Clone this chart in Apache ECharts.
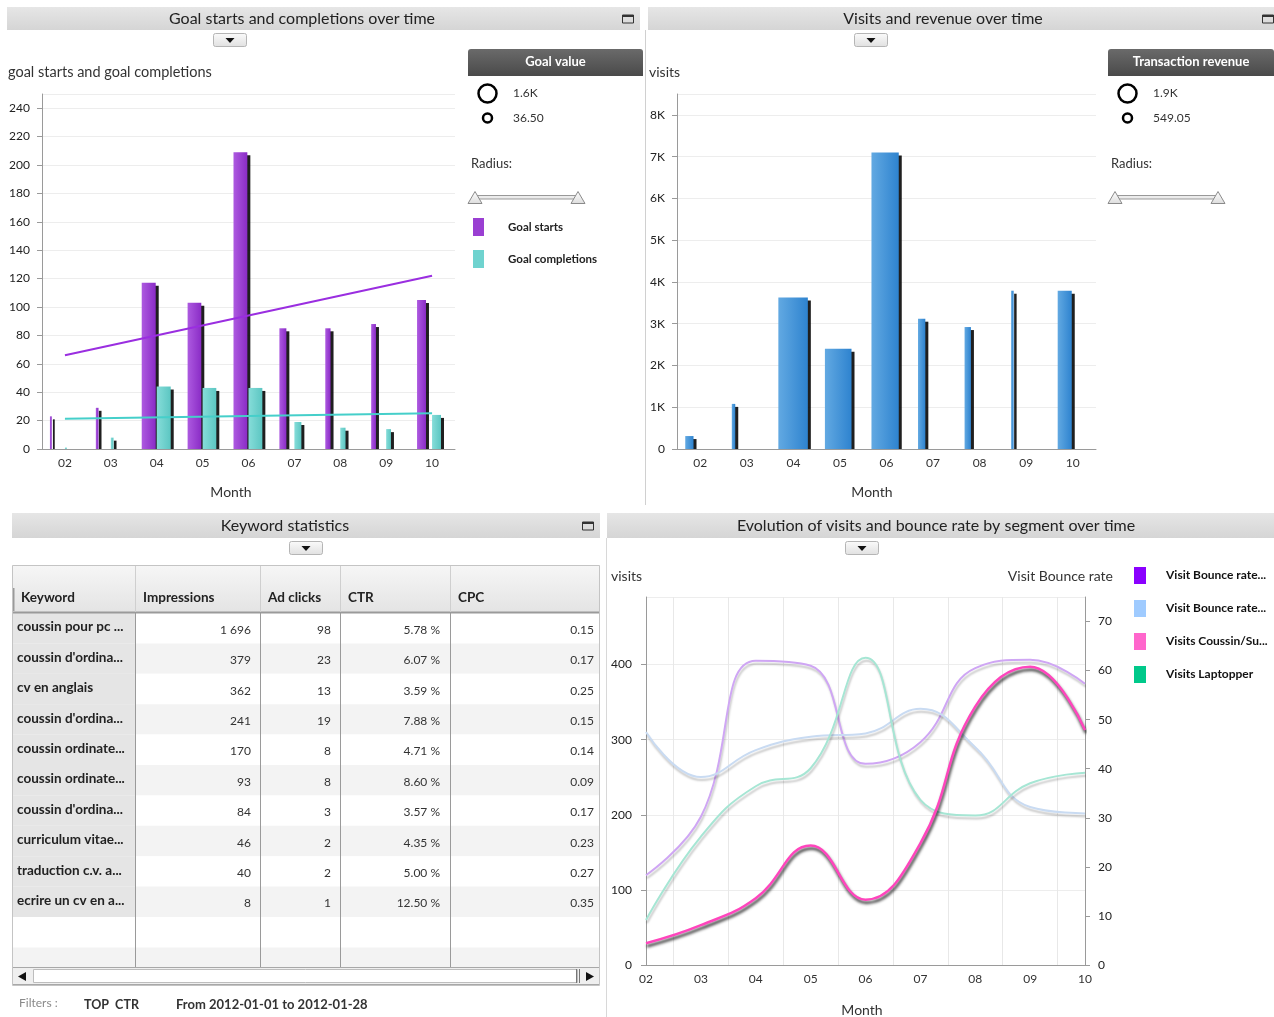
<!DOCTYPE html>
<html><head><meta charset="utf-8">
<script src="https://cdn.jsdelivr.net/npm/echarts/dist/echarts.min.js"></script>
<style>html,body{margin:0;padding:0;background:#fff;}#c{width:1274px;height:1017px;}</style>
</head><body><div id="c"></div>
<script>
// ---------- data ----------
const months = ['02','03','04','05','06','07','08','09','10'];
const goalStarts = [23, 29, 117, 103, 209, 85, 85, 88, 105];
const goalCompletions = [1, 8, 44, 43, 43, 19, 15, 14, 24];
const goalValue = [36.5, 150, 1600, 1560, 1580, 700, 480, 420, 950];
const goalStartsTrend = [66, 122];
const goalCompletionsTrend = [21.3, 25.2];
const visits = [310, 1080, 3630, 2400, 7100, 3120, 2920, 3790, 3790];
const revenue = [838, 597, 1900, 1755, 1790, 790, 742, 549.05, 1128];
const bounceCoussin = [18.3, 30.2, 62, 61, 41, 45.4, 60.5, 62.2, 57.3];
const bounceLaptopper = [47.5, 38.3, 43.8, 46.5, 47.2, 52.2, 44.4, 32.2, 30.9];
const visitsCoussin = [29, 53, 89, 159, 87, 162, 344, 397, 313];
const visitsLaptopper = [60, 171, 238, 262, 409, 220, 199, 242, 256];
const yTicksGoal = {min:0, max:250, interval:20};
const yTicksVisits = {min:0, max:8500, interval:1000};
const yTicksSegVisits = {min:0, max:490, interval:100};
const yTicksBounce = {min:0, max:75, interval:10};
const keywords = ['coussin pour pc ...', "coussin d'ordina...", 'cv en anglais', "coussin d'ordina...", 'coussin ordinate...', 'coussin ordinate...', "coussin d'ordina...", 'curriculum vitae...', 'traduction c.v. a...', 'ecrire un cv en a...'];
const impressions = [1696, 379, 362, 241, 170, 93, 84, 46, 40, 8];
const adClicks = [98, 23, 13, 19, 8, 8, 3, 2, 2, 1];
const ctr = [5.78, 6.07, 3.59, 7.88, 4.71, 8.60, 3.57, 4.35, 5.00, 12.50];
const cpc = [0.15, 0.17, 0.25, 0.15, 0.14, 0.09, 0.17, 0.23, 0.27, 0.35];
const tableHeaders = ['Keyword', 'Impressions', 'Ad clicks', 'CTR', 'CPC'];

// ---------- helpers ----------
const FONT = 'Lato, "Open Sans", sans-serif';
const G = [];
function T(x, y, text, o) {
  o = o || {};
  G.push({type:'text', x:x, y:y, silent:true, z:o.z || 60,
    style:{text:text, fontSize:o.size || 12, fontWeight:o.weight || 'normal', fontFamily:FONT,
      fill:o.color || '#333', align:o.align || 'left', verticalAlign:'middle',
      textAlign:o.align || 'left', textVerticalAlign:'middle'}});
}
function R(x, y, w, h, style, z, r) { G.push({type:'rect', silent:true, z:z || 10, shape:{x:x, y:y, width:w, height:h, r:r || 0}, style:style}); }
function L(x1, y1, x2, y2, color, width, z) { G.push({type:'line', silent:true, z:z || 20, shape:{x1:x1, y1:y1, x2:x2, y2:y2}, style:{stroke:color, lineWidth:width || 1}}); }
function P(points, style, z) { G.push({type:'polygon', silent:true, z:z || 20, shape:{points:points}, style:style}); }
function C(cx, cy, r, style, z) { G.push({type:'circle', silent:true, z:z || 20, shape:{cx:cx, cy:cy, r:r}, style:style}); }
function vgrad(a, b) { return {type:'linear', x:0, y:0, x2:0, y2:1, colorStops:[{offset:0, color:a}, {offset:1, color:b}]}; }
function hgrad(a, b) { return {type:'linear', x:0, y:0, x2:1, y2:0, colorStops:[{offset:0, color:a}, {offset:1, color:b}]}; }
function fmtK(v) { return v >= 1000 ? (v / 1000).toFixed(1) + 'K' : v.toFixed(2); }

// ---------- panel chrome ----------
const panels = [
  {x:7, y:7, w:633, h:23, title:'Goal starts and completions over time', tx:302, icon:628, btn:230},
  {x:648, y:7, w:626, h:23, title:'Visits and revenue over time', tx:943, icon:1268, btn:871},
  {x:12, y:513, w:588, h:25, title:'Keyword statistics', tx:285, icon:588, btn:306},
  {x:607, y:513, w:667, h:25, title:'Evolution of visits and bounce rate by segment over time', tx:936, icon:null, btn:862}
];
panels.forEach(function (p) {
  R(p.x, p.y, p.w, p.h, {fill:vgrad('#e6e6e6', '#d5d5d5')}, 5);
  T(p.tx, p.y + p.h / 2, p.title, {size:16, color:'#222', align:'center'});
  if (p.icon) {
    const iy = p.y + p.h / 2 - 4;
    R(p.icon - 5.5, iy + 0.5, 11, 8, {fill:'none', stroke:'#333', lineWidth:1}, 12);
    L(p.icon - 5.5, iy + 1.5, p.icon + 5.5, iy + 1.5, '#333', 2, 12);
  }
  const by = p.y + p.h + 3;
  R(p.btn - 16.5, by + 0.5, 33, 13, {fill:vgrad('#fbfbfb', '#e0e0e0'), stroke:'#b5b5b5', lineWidth:1}, 12, 2);
  P([[p.btn - 4.5, by + 5], [p.btn + 4.5, by + 5], [p.btn, by + 10]], {fill:'#111'}, 13);
});
L(645.5, 30, 645.5, 505, '#d0d0d0', 1);
L(606.5, 538, 606.5, 1017, '#d8d8d8', 1);

// axis name texts
T(8, 72, 'goal starts and goal completions', {size:14.5, color:'#333'});
T(649, 72, 'visits', {size:14, color:'#333'});
T(231, 492, 'Month', {size:14, color:'#333', align:'center'});
T(872, 492, 'Month', {size:14, color:'#333', align:'center'});
T(611, 576, 'visits', {size:14, color:'#333'});
T(1113, 576, 'Visit Bounce rate', {size:14, color:'#333', align:'right'});
T(862, 1010, 'Month', {size:14, color:'#333', align:'center'});

// size legend panels
function sizePanel(x0, w, title, maxV, minV) {
  R(x0, 49, w, 27, {fill:vgrad('#6a6a6a', '#4a4a4a')}, 10, [3, 3, 0, 0]);
  T(x0 + w / 2, 62, title, {size:13, weight:'bold', color:'#fff', align:'center'});
  C(x0 + 19.5, 93.5, 9, {fill:'none', stroke:'#000', lineWidth:2.5});
  C(x0 + 19.5, 118, 4.5, {fill:'none', stroke:'#000', lineWidth:2.5});
  T(x0 + 45, 93, fmtK(maxV), {size:12, color:'#333'});
  T(x0 + 45, 118, fmtK(minV), {size:12, color:'#333'});
  T(x0 + 3, 164, 'Radius:', {size:13, color:'#333'});
  R(x0 + 7, 195.5, 103, 3.5, {fill:'#ececec', stroke:'#999', lineWidth:1}, 20);
  [x0 + 7, x0 + 110].forEach(function (cx) {
    P([[cx - 7, 203.5], [cx, 191.5], [cx + 7, 203.5]], {fill:vgrad('#ffffff', '#dcdcdc'), stroke:'#8a8a8a', lineWidth:1}, 21);
  });
}
sizePanel(468, 175, 'Goal value', Math.max.apply(null, goalValue), Math.min.apply(null, goalValue));
sizePanel(1108, 166, 'Transaction revenue', Math.max.apply(null, revenue), Math.min.apply(null, revenue));

// ---------- keyword table ----------
const tX = [12, 135, 260, 340, 450, 600];
const tTop = 565, hBot = 612, rowH = 30.4, tBot = 967;
R(12, tTop, 588, hBot - tTop, {fill:vgrad('#f6f6f6', '#e4e4e4')}, 8);
for (let i = 0; i < 12; i++) {
  const y = hBot + 1 + i * rowH;
  const h = Math.min(rowH, tBot - y);
  R(12.5, y, 587, h, {fill:i % 2 ? '#f3f3f3' : '#ffffff'}, 8);
  if (i < keywords.length) R(12.5, y, 122.5, h, {fill:'#e5e5e5'}, 9);
}
L(12, hBot + 0.5, 600, hBot + 0.5, '#9a9a9a', 2, 20);
for (let k = 1; k < 5; k++) {
  L(tX[k] + 0.5, tTop, tX[k] + 0.5, hBot, '#cfcfcf', 1, 20);
  L(tX[k] + 0.5, hBot, tX[k] + 0.5, tBot, '#9a9a9a', 1, 20);
}
L(13.5, 588, 13.5, 611, '#9a9a9a', 2, 20);
R(12.5, tTop + 0.5, 587, 420, {fill:'none', stroke:'#c4c4c4', lineWidth:1}, 22);
const headerX = [21, 143, 268, 348, 458];
tableHeaders.forEach(function (h, k) { T(headerX[k], 598, h, {size:13.5, weight:'bold', color:'#222'}); });
const valRight = [251, 331, 440, 594];
function thousands(n) { return String(n).replace(/\B(?=(\d{3})+(?!\d))/g, ' '); }
for (let i = 0; i < keywords.length; i++) {
  const y = hBot + 1 + i * rowH;
  T(17, y + 14, keywords[i], {size:13.5, weight:'bold', color:'#222'});
  T(valRight[0], y + 17, thousands(impressions[i]), {size:12, color:'#333', align:'right'});
  T(valRight[1], y + 17, String(adClicks[i]), {size:12, color:'#333', align:'right'});
  T(valRight[2], y + 17, ctr[i].toFixed(2) + ' %', {size:12, color:'#333', align:'right'});
  T(valRight[3], y + 17, cpc[i].toFixed(2), {size:12, color:'#333', align:'right'});
}
// scrollbar
R(12.5, 967.5, 587, 17, {fill:'#efefef', stroke:'#a8a8a8', lineWidth:1}, 20);
R(33.5, 969.5, 544, 13, {fill:'#ffffff', stroke:'#bdbdbd', lineWidth:1}, 21);
L(576.5, 969, 576.5, 983, '#777', 1, 22);
L(579.5, 969, 579.5, 983, '#777', 1, 22);
P([[18, 976.5], [26, 972], [26, 981]], {fill:'#111'}, 22);
P([[594, 976.5], [586, 972], [586, 981]], {fill:'#111'}, 22);
T(19, 1003, 'Filters :', {size:12, color:'#8a8a8a'});
T(84, 1005, 'TOP  CTR', {size:12.5, weight:'bold', color:'#333'});
T(176, 1005, 'From 2012-01-01 to 2012-01-28', {size:13, weight:'bold', color:'#333'});

// ---------- bar renderer ----------
function barRenderer(offsetFrac, sizes, minW, maxW, c1, c2) {
  const minV = Math.min.apply(null, sizes), maxV = Math.max.apply(null, sizes);
  return function (params, api) {
    const idx = api.value(0), val = api.value(1), s = api.value(2);
    const top = api.coord([idx, val]);
    const base = api.coord([idx, 0]);
    const band = api.size([1, 0])[0];
    const w = minW + (s - minV) / (maxV - minV) * (maxW - minW);
    const x = top[0] + offsetFrac * band;
    const h = base[1] - top[1];
    return {type:'group', children:[
      {type:'rect', shape:{x:x + 3, y:top[1] + 3, width:w, height:Math.max(h - 3, 0)}, style:{fill:'rgba(0,0,0,0.88)'}},
      {type:'rect', shape:{x:x, y:top[1], width:w, height:h}, style:{fill:hgrad(c1, c2)}}
    ]};
  };
}

const axisLineStyle = {color:'#9a9a9a', width:1};
function catAxis(grid, boundary) {
  return {type:'category', gridIndex:grid, data:months, boundaryGap:boundary,
    axisLine:{lineStyle:axisLineStyle}, axisTick:{show:false},
    axisLabel:{color:'#333', fontSize:12, fontFamily:FONT, margin:8}, splitLine:{show:false}};
}
function valAxis(grid, t, extra) {
  return Object.assign({type:'value', gridIndex:grid, min:t.min, max:t.max, interval:t.interval,
    axisLine:{show:true, lineStyle:axisLineStyle}, axisTick:{show:true, length:5, lineStyle:{color:'#9a9a9a'}},
    axisLabel:{color:'#222', fontSize:12, fontFamily:FONT, margin:12, showMaxLabel:false},
    splitLine:{show:true, lineStyle:{color:'#ededed'}}}, extra || {});
}

const fadedLine = function (color) {
  return {color:color, width:2, shadowColor:'rgba(0,0,0,0.22)', shadowBlur:2, shadowOffsetY:3, shadowOffsetX:1};
};

const option = {
  animation:false,
  textStyle:{fontFamily:FONT},
  grid:[
    {left:42, top:94, width:413, height:355},
    {left:677, top:94, width:419, height:355},
    {left:646, top:597, width:439, height:368}
  ],
  xAxis:[
    catAxis(0, true),
    catAxis(1, true),
    catAxis(2, false),
    {type:'value', gridIndex:2, min:0, max:months.length - 1, interval:1, axisLine:{show:false}, axisTick:{show:false},
      axisLabel:{show:false}, splitLine:{show:false}, minorTick:{show:false, splitNumber:2},
      minorSplitLine:{show:true, lineStyle:{color:'#e8e8e8'}}}
  ],
  yAxis:[
    valAxis(0, yTicksGoal),
    valAxis(1, yTicksVisits, {axisLabel:{color:'#222', fontSize:12, fontFamily:FONT, margin:12, showMaxLabel:false,
      formatter:function (v) { return v === 0 ? '0' : (v / 1000) + 'K'; }}}),
    valAxis(2, yTicksSegVisits, {axisLabel:{color:'#222', fontSize:12, fontFamily:FONT, margin:14, showMaxLabel:false}}),
    valAxis(2, yTicksBounce, {position:'right', splitLine:{show:false},
      axisLabel:{color:'#222', fontSize:12, fontFamily:FONT, margin:13, showMaxLabel:false}})
  ],
  legend:[
    {data:['Goal starts', 'Goal completions'], left:473, top:218, orient:'vertical', icon:'rect', padding:0,
      itemWidth:11, itemHeight:18, itemGap:14, selectedMode:false,
      textStyle:{fontFamily:FONT, fontSize:11.5, fontWeight:'bold', color:'#222', padding:[0, 0, 0, 19]}},
    {data:['Visit Bounce rate Coussin/Support', 'Visit Bounce rate Laptopper', 'Visits Coussin/Support', 'Visits Laptopper'],
      left:1134, top:567, orient:'vertical', icon:'rect', padding:0, itemWidth:12, itemHeight:17, itemGap:16, selectedMode:false,
      formatter:function (n) { return n.length > 17 ? n.slice(0, 17) + '...' : n; },
      textStyle:{fontFamily:FONT, fontSize:12, fontWeight:'bold', color:'#111', padding:[0, 0, 0, 15]}}
  ],
  graphic:{elements:G},
  series:[
    {name:'Goal starts', type:'custom', xAxisIndex:0, yAxisIndex:0, itemStyle:{color:'#9a3fd2'},
      renderItem:barRenderer(-0.327, goalValue, 1.8, 14, '#ad5ae0', '#8a2cc6'),
      encode:{x:0, y:1}, data:goalStarts.map(function (v, i) { return [i, v, goalValue[i]]; }), z:3},
    {name:'Goal completions', type:'custom', xAxisIndex:0, yAxisIndex:0, itemStyle:{color:'#6fd3cf'},
      renderItem:barRenderer(0, goalValue, 1.8, 14, '#86ddd9', '#5cc6c2'),
      encode:{x:0, y:1}, data:goalCompletions.map(function (v, i) { return [i, v, goalValue[i]]; }), z:4},
    {name:'Goal starts trend', type:'line', xAxisIndex:0, yAxisIndex:0, symbol:'none', z:6,
      lineStyle:{color:'#9a2ee0', width:2},
      data:[[0, goalStartsTrend[0]], [months.length - 1, goalStartsTrend[1]]]},
    {name:'Goal completions trend', type:'line', xAxisIndex:0, yAxisIndex:0, symbol:'none', z:6,
      lineStyle:{color:'#45cfca', width:2},
      data:[[0, goalCompletionsTrend[0]], [months.length - 1, goalCompletionsTrend[1]]]},
    {name:'Visits', type:'custom', xAxisIndex:1, yAxisIndex:1, itemStyle:{color:'#3a8fd8'},
      renderItem:barRenderer(-0.323, revenue, 2.5, 29.5, '#62a9e2', '#2e83cf'),
      encode:{x:0, y:1}, data:visits.map(function (v, i) { return [i, v, revenue[i]]; }), z:3},
    {name:'Visit Bounce rate Coussin/Support', type:'line', xAxisIndex:2, yAxisIndex:3, smooth:0.45, symbol:'none',
      itemStyle:{color:'#8a00ff'}, lineStyle:fadedLine('#cfa6f4'), data:bounceCoussin, z:3},
    {name:'Visit Bounce rate Laptopper', type:'line', xAxisIndex:2, yAxisIndex:3, smooth:0.45, symbol:'none',
      itemStyle:{color:'#9fcbff'}, lineStyle:fadedLine('#c9dbf2'), data:bounceLaptopper, z:3},
    {name:'Visits Laptopper', type:'line', xAxisIndex:2, yAxisIndex:2, smooth:0.45, symbol:'none',
      itemStyle:{color:'#00c98a'}, lineStyle:fadedLine('#a6e6d4'), data:visitsLaptopper, z:3},
    {name:'Visits Coussin/Support', type:'line', xAxisIndex:2, yAxisIndex:2, smooth:0.45, symbol:'none',
      itemStyle:{color:'#ff66cc'},
      lineStyle:{color:'#ff45bd', width:2.5, shadowColor:'rgba(0,0,0,0.8)', shadowBlur:3, shadowOffsetX:1, shadowOffsetY:3},
      data:visitsCoussin, z:5}
  ]
};
const chart = echarts.init(document.getElementById('c'), null, {renderer:'canvas'});
chart.setOption(option);
</script>
</body></html>
